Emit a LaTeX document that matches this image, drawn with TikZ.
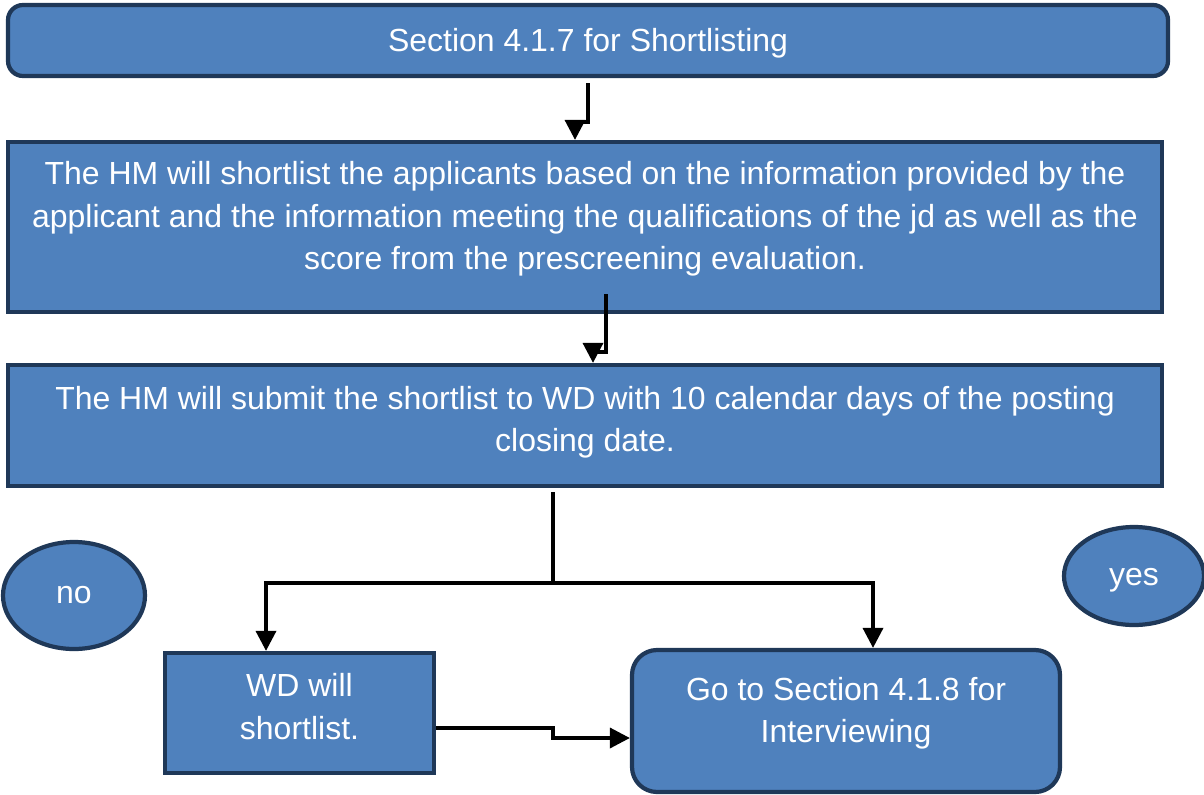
\documentclass[tikz,border=0pt]{standalone}
\usepackage{fontspec}
\setmainfont{Liberation Sans}
\usetikzlibrary{shapes.geometric, arrows.meta}

\definecolor{boxfill}{RGB}{79,129,189}
\definecolor{boxline}{RGB}{31,56,88}

\tikzset{
	box/.style = {draw = boxline, fill = boxfill, line width = 2.4pt, text = white, align = center, font = \fontsize{18.2}{24.2}\selectfont, inner sep = 0pt},
	roundbox/.style = {box, rounded corners = 0.3cm},
	oval/.style = {box, ellipse},
	link/.style = {line width = 2pt},
	arr/.style = {link, -{Triangle[length = 0.4cm, width = 0.4cm]}}
}

\begin{document}
\begin{tikzpicture}
			\useasboundingbox (0,0) rectangle (24.08,-15.88);

			\node [roundbox, minimum width = 23.2cm, minimum height = 1.42cm, text height = 16.7pt, text depth = 3.8pt] (top) at (11.76,-0.81) {Section 4.1.7 for Shortlisting};
			\node [box, minimum width = 23.08cm, minimum height = 3.4cm] (hm) at (11.7,-4.54) {The HM will shortlist the applicants based on the information provided by the\\ applicant and the information meeting the qualifications of the jd as well as the\\ score from the prescreening evaluation.\\[-0.4cm]};
			\node [box, minimum width = 23.08cm, minimum height = 2.42cm] (submit) at (11.7,-8.51) {The HM will submit the shortlist to WD with 10 calendar days of the posting\\ closing date.\\[-0.58cm]};

			\node [oval, minimum width = 2.84cm, minimum height = 2.14cm] (no) at (1.48,-11.91) {no};
			\node [oval, minimum width = 2.8cm, minimum height = 1.96cm, text height = 15.1pt, text depth = 3.8pt] (yes) at (22.68,-11.52) {yes};

			\node [box, minimum width = 5.38cm, minimum height = 2.4cm] (wd) at (5.99,-14.26) {WD will\\ shortlist.\\[-0.58cm]};
			\node [roundbox, rounded corners = 0.5cm, minimum width = 8.56cm, minimum height = 2.84cm] (go) at (16.92,-14.42) {Go to Section 4.1.8 for\\ Interviewing\\[-0.4cm]};

			\coordinate (split) at (11.06,-11.66);

			\draw [arr] ([yshift = -0.1cm]top.south) -- ++(0,-0.78) -| ([xshift = -0.2cm]hm.north);
			\draw [arr] ([shift = {(0.42,0.4)}]hm.south) -- ++(0,-1.16) -| ([xshift = 0.16cm]submit.north);
			\draw [link] ([shift = {(-0.64,-0.08)}]submit.south) -- (split);
			\draw [arr] (split) -| ([xshift = -0.67cm]wd.north);
			\draw [arr] (split) -| ([xshift = 0.54cm]go.north);
			\draw [arr] ([yshift = -0.3cm]wd.east) -| (split |- 0,-14.66) |- ([yshift = -0.34cm]go.west);
\end{tikzpicture}
\end{document}
